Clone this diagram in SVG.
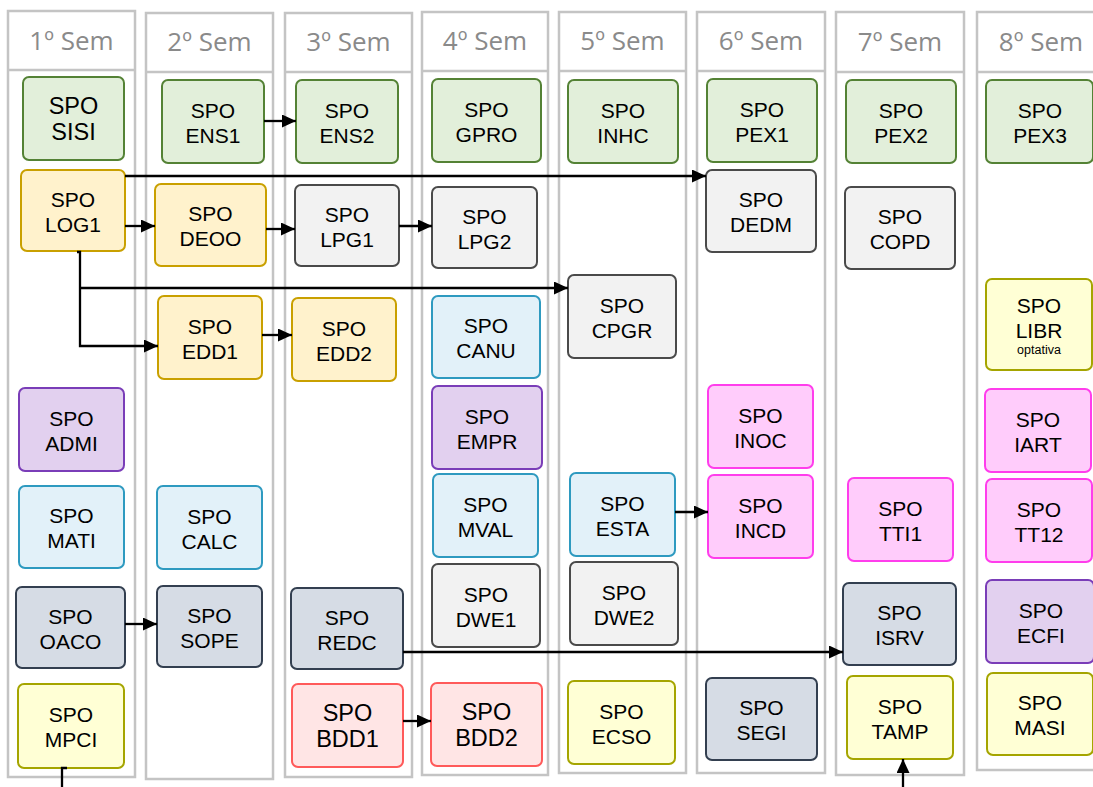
<svg xmlns="http://www.w3.org/2000/svg" width="1093" height="787" viewBox="0 0 1093 787">
<style>
.lane{fill:#fff;stroke:#c4c4c4;stroke-width:2.5}
.lh{font-family:"Open Sans","Noto Sans",sans-serif;font-size:26px;fill:#8a8a8a;text-anchor:middle}
.n rect{stroke-width:2}
.t{font-family:"Liberation Sans",Arial,sans-serif;font-size:21px;fill:#000;text-anchor:middle}
.big .t{font-size:23.5px}
.sm{font-family:"Liberation Sans",Arial,sans-serif;font-size:12.5px;fill:#000;text-anchor:middle}
.green rect{fill:#e2efda;stroke:#548235}
.yellow rect{fill:#fff2cc;stroke:#c9a000}
.purple rect{fill:#e2d0ef;stroke:#7a3db8}
.blue rect{fill:#e2f1f9;stroke:#2e9ac0}
.slate rect{fill:#d6dce5;stroke:#333f50}
.olive rect{fill:#ffffd5;stroke:#a5a500}
.gray rect{fill:#f2f2f2;stroke:#4a4a4a}
.red rect{fill:#ffe5e5;stroke:#ff5a5a}
.pink rect{fill:#ffccfb;stroke:#ff3dec}
.c path{fill:none;stroke:#000;stroke-width:2.3}
</style>
<defs>
<marker id="ah" markerUnits="userSpaceOnUse" markerWidth="14" markerHeight="13" refX="14" refY="6.5" orient="auto">
<path d="M0,0 L14,6.5 L0,13 z" fill="#000"/>
</marker>
</defs>
<g id="lanes">
<g id="lane1"><rect class="lane" x="8" y="11" width="127" height="766"/><line x1="8" y1="70" x2="135" y2="70" stroke="#c4c4c4" stroke-width="2.5"/><text class="lh" x="71.5" y="50">1º Sem</text></g>
<g id="lane2"><rect class="lane" x="146" y="13" width="127" height="766"/><line x1="146" y1="72" x2="273" y2="72" stroke="#c4c4c4" stroke-width="2.5"/><text class="lh" x="209.5" y="51">2º Sem</text></g>
<g id="lane3"><rect class="lane" x="285" y="13" width="127" height="764"/><line x1="285" y1="72" x2="412" y2="72" stroke="#c4c4c4" stroke-width="2.5"/><text class="lh" x="348.5" y="51">3º Sem</text></g>
<g id="lane4"><rect class="lane" x="422" y="12" width="126" height="763"/><line x1="422" y1="71" x2="548" y2="71" stroke="#c4c4c4" stroke-width="2.5"/><text class="lh" x="485" y="50">4º Sem</text></g>
<g id="lane5"><rect class="lane" x="559" y="12" width="127" height="761"/><line x1="559" y1="71" x2="686" y2="71" stroke="#c4c4c4" stroke-width="2.5"/><text class="lh" x="622.5" y="50">5º Sem</text></g>
<g id="lane6"><rect class="lane" x="697" y="12" width="128" height="761"/><line x1="697" y1="71" x2="825" y2="71" stroke="#c4c4c4" stroke-width="2.5"/><text class="lh" x="761" y="50">6º Sem</text></g>
<g id="lane7"><rect class="lane" x="836" y="12" width="128" height="763"/><line x1="836" y1="72" x2="964" y2="72" stroke="#c4c4c4" stroke-width="2.5"/><text class="lh" x="900" y="51">7º Sem</text></g>
<g id="lane8"><rect class="lane" x="977" y="12" width="128" height="758"/><line x1="977" y1="72" x2="1105" y2="72" stroke="#c4c4c4" stroke-width="2.5"/><text class="lh" x="1041" y="51">8º Sem</text></g>
</g>
<g id="SISI" class="n green big"><rect x="23" y="77" width="101" height="83" rx="6"/><text class="t" x="73.5" y="113.5">SPO</text><text class="t" x="73.5" y="140">SISI</text></g>
<g id="LOG1" class="n yellow"><rect x="21" y="170" width="104" height="81" rx="6"/><text class="t" x="73" y="206.5">SPO</text><text class="t" x="73" y="231.5">LOG1</text></g>
<g id="ADMI" class="n purple"><rect x="19" y="388" width="105" height="83" rx="6"/><text class="t" x="71.5" y="425.5">SPO</text><text class="t" x="71.5" y="450.5">ADMI</text></g>
<g id="MATI" class="n blue"><rect x="19" y="486" width="105" height="82" rx="6"/><text class="t" x="71.5" y="523">SPO</text><text class="t" x="71.5" y="548">MATI</text></g>
<g id="OACO" class="n slate"><rect x="16" y="587" width="109" height="81" rx="6"/><text class="t" x="70.5" y="623.5">SPO</text><text class="t" x="70.5" y="648.5">OACO</text></g>
<g id="MPCI" class="n olive"><rect x="18" y="684" width="106" height="84" rx="6"/><text class="t" x="71" y="722">SPO</text><text class="t" x="71" y="747">MPCI</text></g>
<g id="ENS1" class="n green"><rect x="162" y="80" width="102" height="83" rx="6"/><text class="t" x="213" y="117.5">SPO</text><text class="t" x="213" y="142.5">ENS1</text></g>
<g id="DEOO" class="n yellow"><rect x="155" y="184" width="111" height="82" rx="6"/><text class="t" x="210.5" y="221">SPO</text><text class="t" x="210.5" y="246">DEOO</text></g>
<g id="EDD1" class="n yellow"><rect x="158" y="296" width="104" height="83" rx="6"/><text class="t" x="210" y="333.5">SPO</text><text class="t" x="210" y="358.5">EDD1</text></g>
<g id="CALC" class="n blue"><rect x="157" y="486" width="105" height="83" rx="6"/><text class="t" x="209.5" y="523.5">SPO</text><text class="t" x="209.5" y="548.5">CALC</text></g>
<g id="SOPE" class="n slate"><rect x="157" y="586" width="105" height="81" rx="6"/><text class="t" x="209.5" y="622.5">SPO</text><text class="t" x="209.5" y="647.5">SOPE</text></g>
<g id="ENS2" class="n green"><rect x="296" y="80" width="102" height="83" rx="6"/><text class="t" x="347" y="117.5">SPO</text><text class="t" x="347" y="142.5">ENS2</text></g>
<g id="LPG1" class="n gray"><rect x="295" y="185" width="104" height="81" rx="6"/><text class="t" x="347" y="221.5">SPO</text><text class="t" x="347" y="246.5">LPG1</text></g>
<g id="EDD2" class="n yellow"><rect x="292" y="298" width="104" height="83" rx="6"/><text class="t" x="344" y="335.5">SPO</text><text class="t" x="344" y="360.5">EDD2</text></g>
<g id="REDC" class="n slate"><rect x="291" y="588" width="112" height="81" rx="6"/><text class="t" x="347" y="624.5">SPO</text><text class="t" x="347" y="649.5">REDC</text></g>
<g id="BDD1" class="n red big"><rect x="292" y="684" width="111" height="83" rx="6"/><text class="t" x="347.5" y="720.5">SPO</text><text class="t" x="347.5" y="747">BDD1</text></g>
<g id="GPRO" class="n green"><rect x="432" y="79" width="109" height="83" rx="6"/><text class="t" x="486.5" y="116.5">SPO</text><text class="t" x="486.5" y="141.5">GPRO</text></g>
<g id="LPG2" class="n gray"><rect x="432" y="187" width="105" height="81" rx="6"/><text class="t" x="484.5" y="223.5">SPO</text><text class="t" x="484.5" y="248.5">LPG2</text></g>
<g id="CANU" class="n blue"><rect x="432" y="296" width="108" height="82" rx="6"/><text class="t" x="486" y="333">SPO</text><text class="t" x="486" y="358">CANU</text></g>
<g id="EMPR" class="n purple"><rect x="432" y="386" width="110" height="83" rx="6"/><text class="t" x="487" y="423.5">SPO</text><text class="t" x="487" y="448.5">EMPR</text></g>
<g id="MVAL" class="n blue"><rect x="433" y="474" width="105" height="83" rx="6"/><text class="t" x="485.5" y="511.5">SPO</text><text class="t" x="485.5" y="536.5">MVAL</text></g>
<g id="DWE1" class="n gray"><rect x="432" y="564" width="108" height="83" rx="6"/><text class="t" x="486" y="601.5">SPO</text><text class="t" x="486" y="626.5">DWE1</text></g>
<g id="BDD2" class="n red big"><rect x="431" y="683" width="111" height="83" rx="6"/><text class="t" x="486.5" y="719.5">SPO</text><text class="t" x="486.5" y="746">BDD2</text></g>
<g id="INHC" class="n green"><rect x="568" y="80" width="110" height="83" rx="6"/><text class="t" x="623" y="117.5">SPO</text><text class="t" x="623" y="142.5">INHC</text></g>
<g id="CPGR" class="n gray"><rect x="568" y="275" width="108" height="83" rx="6"/><text class="t" x="622" y="312.5">SPO</text><text class="t" x="622" y="337.5">CPGR</text></g>
<g id="ESTA" class="n blue"><rect x="570" y="473" width="105" height="83" rx="6"/><text class="t" x="622.5" y="510.5">SPO</text><text class="t" x="622.5" y="535.5">ESTA</text></g>
<g id="DWE2" class="n gray"><rect x="570" y="562" width="108" height="83" rx="6"/><text class="t" x="624" y="599.5">SPO</text><text class="t" x="624" y="624.5">DWE2</text></g>
<g id="ECSO" class="n olive"><rect x="568" y="681" width="107" height="83" rx="6"/><text class="t" x="621.5" y="718.5">SPO</text><text class="t" x="621.5" y="743.5">ECSO</text></g>
<g id="PEX1" class="n green"><rect x="707" y="79" width="110" height="83" rx="6"/><text class="t" x="762" y="116.5">SPO</text><text class="t" x="762" y="141.5">PEX1</text></g>
<g id="DEDM" class="n gray"><rect x="706" y="170" width="110" height="82" rx="6"/><text class="t" x="761" y="207">SPO</text><text class="t" x="761" y="232">DEDM</text></g>
<g id="INOC" class="n pink"><rect x="708" y="385" width="105" height="83" rx="6"/><text class="t" x="760.5" y="422.5">SPO</text><text class="t" x="760.5" y="447.5">INOC</text></g>
<g id="INCD" class="n pink"><rect x="708" y="475" width="105" height="83" rx="6"/><text class="t" x="760.5" y="512.5">SPO</text><text class="t" x="760.5" y="537.5">INCD</text></g>
<g id="SEGI" class="n slate"><rect x="706" y="678" width="111" height="82" rx="6"/><text class="t" x="761.5" y="715">SPO</text><text class="t" x="761.5" y="740">SEGI</text></g>
<g id="PEX2" class="n green"><rect x="846" y="80" width="110" height="83" rx="6"/><text class="t" x="901" y="117.5">SPO</text><text class="t" x="901" y="142.5">PEX2</text></g>
<g id="COPD" class="n gray"><rect x="845" y="187" width="110" height="82" rx="6"/><text class="t" x="900" y="224">SPO</text><text class="t" x="900" y="249">COPD</text></g>
<g id="TTI1" class="n pink"><rect x="848" y="478" width="105" height="83" rx="6"/><text class="t" x="900.5" y="515.5">SPO</text><text class="t" x="900.5" y="540.5">TTI1</text></g>
<g id="ISRV" class="n slate"><rect x="843" y="583" width="113" height="82" rx="6"/><text class="t" x="899.5" y="620">SPO</text><text class="t" x="899.5" y="645">ISRV</text></g>
<g id="TAMP" class="n olive"><rect x="847" y="676" width="106" height="83" rx="6"/><text class="t" x="900" y="713.5">SPO</text><text class="t" x="900" y="738.5">TAMP</text></g>
<g id="PEX3" class="n green"><rect x="986" y="80" width="107" height="83" rx="6"/><text class="t" x="1040" y="117.5">SPO</text><text class="t" x="1040" y="142.5">PEX3</text></g>
<g id="LIBR" class="n olive"><rect x="986" y="279" width="106" height="91" rx="6"/><text class="t" x="1039" y="313">SPO</text><text class="t" x="1039" y="338">LIBR</text><text class="sm" x="1039" y="353.5">optativa</text></g>
<g id="IART" class="n pink"><rect x="985" y="389" width="106" height="83" rx="6"/><text class="t" x="1038" y="426.5">SPO</text><text class="t" x="1038" y="451.5">IART</text></g>
<g id="TT12" class="n pink"><rect x="986" y="479" width="106" height="83" rx="6"/><text class="t" x="1039" y="516.5">SPO</text><text class="t" x="1039" y="541.5">TT12</text></g>
<g id="ECFI" class="n purple"><rect x="986" y="580" width="108" height="83" rx="6"/><text class="t" x="1041" y="617.5">SPO</text><text class="t" x="1041" y="642.5">ECFI</text></g>
<g id="MASI" class="n olive"><rect x="987" y="673" width="106" height="82" rx="6"/><text class="t" x="1040" y="710">SPO</text><text class="t" x="1040" y="735">MASI</text></g>
<g id="connectors" class="c">
<path d="M264,121 H296" marker-end="url(#ah)"/>
<path d="M125,226 H155" marker-end="url(#ah)"/>
<path d="M266,229 H295" marker-end="url(#ah)"/>
<path d="M399,226 H432" marker-end="url(#ah)"/>
<path d="M125,176 H706" marker-end="url(#ah)"/>
<path d="M77,252 H80 V346 H158" marker-end="url(#ah)"/>
<path d="M80,288 H568" marker-end="url(#ah)"/>
<path d="M262,335 H292" marker-end="url(#ah)"/>
<path d="M125,624 H157" marker-end="url(#ah)"/>
<path d="M403,652 H843" marker-end="url(#ah)"/>
<path d="M403,721 H431" marker-end="url(#ah)"/>
<path d="M675,512 H708" marker-end="url(#ah)"/>
<path d="M67,768 H62 V787"/>
<path d="M903,787 V759" marker-end="url(#ah)"/>
</g>
</svg>
